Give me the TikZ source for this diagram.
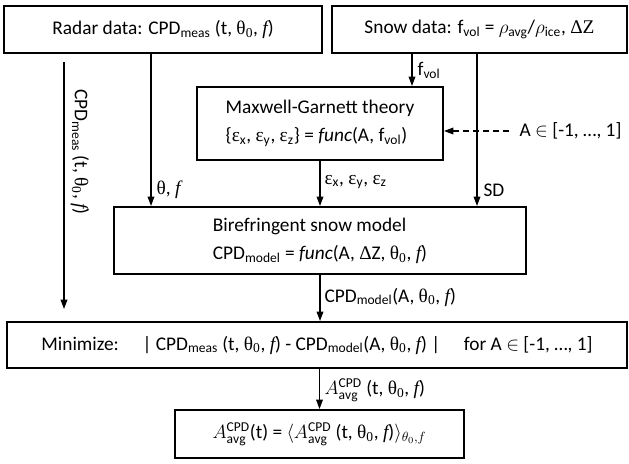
\documentclass[tikz,border=0pt]{standalone}
\usepackage{fontspec}
\setmainfont{Carlito}
\newfontfamily\symf{Liberation Serif}
\usetikzlibrary{arrows.meta, positioning}

\newcommand{\thz}{{\symf θ}\textsubscript{\symf 0}}
\newcommand{\ff}{{\symf\itshape f}}
\newcommand{\eps}[1]{{\symf ε}\textsubscript{#1}}
\newcommand{\Aavg}{$A^{\mathrm{CPD}}_{\mathrm{avg}}$}

\begin{document}
\begin{tikzpicture}[x=0.75pt, y=-0.75pt,
    box/.style={draw, line width=1.5pt, inner sep=0pt, align=left},
    arr/.style={-{Triangle[length=7pt,width=5pt]}, line width=0.9pt},
    lbl/.style={inner sep=1pt, anchor=west},
    font=\fontsize{14.5}{21}\selectfont]
    \useasboundingbox (0,0) rectangle (629,464);

    % Define the boxes
    \node[box, minimum width=238.5pt, minimum height=35.25pt] (radar) at (163,29.5)
        {Radar data: CPD\textsubscript{meas} (t, \thz, \ff)};
    \node[box, minimum width=221.25pt, minimum height=35.25pt] (snow) at (479.5,29.5)
        {Snow data: f\textsubscript{vol} = $\rho$\textsubscript{avg}/$\rho$\textsubscript{ice}, {\symf ΔZ}};
    \node[box, minimum width=184.5pt, minimum height=54.75pt] (mg) at (320,123.5)
        {Maxwell-Garnett theory\\\{\eps{x}, \eps{y}, \eps{z}\} = \textit{func}(A, f\textsubscript{vol})};
    \node[box, minimum width=309pt, minimum height=50.25pt] (bire) at (320,240.5)
        {Birefringent snow model\\CPD\textsubscript{model} = \textit{func}(A, {\symf Δ}Z, \thz, \ff)};
    \node[box, minimum width=465pt, minimum height=34.5pt] (mini) at (317,345)
        {Minimize:\quad\ | CPD\textsubscript{meas} (t, \thz, \ff) - CPD\textsubscript{model}(A, \thz, \ff) |\quad\ for A $\in$ [-1, …, 1]};
    \node[box, minimum width=216.75pt, minimum height=36pt] (res) at (319.5,434)
        {\Aavg(t) = $\langle$\Aavg\ (t, \thz, \ff)$\rangle_{\theta_0,f}$};

    % Free ends and columns
    \coordinate (thx) at (151,0);
    \coordinate (fvx) at (412,0);
    \coordinate (sdx) at (477,0);
    \coordinate (measA) at (64,62);
    \coordinate (measB) at (64,309);

    % Draw the connectors
    \draw[arr] (measA) -- (measB);
    \draw[arr] (radar.south -| thx) -- (bire.north -| thx);
    \draw[arr] (snow.south -| fvx) -- (mg.north -| fvx);
    \draw[arr] (snow.south -| sdx) -- (bire.north -| sdx);
    \draw[arr] (mg.south) -- (bire.north);
    \draw[arr] (bire.south) -- (mini.north -| bire.south);
    \draw[arr] (mini.south -| res.north) -- (res.north);

    % Dashed input
    \node[lbl] (aset) at (518,131) {A $\in$ [-1, …, 1]};
    \draw[arr, dash pattern=on 4.5pt off 3pt, shorten <=7pt] (aset.west) -- (mg.east |- aset.west);

    % Label the connectors
    \node[rotate=-90] (measlbl) at (80,152) {CPD\textsubscript{meas} (t, \thz, \ff)};
    \node[lbl] (fvlbl) at (416,70) {f\textsubscript{vol}};
    \node[lbl] (thlbl) at (155,190) {{\symf θ}, \ff};
    \node[lbl] (eplbl) at (323,182) {\eps{x}, \eps{y}, \eps{z}};
    \node[lbl] (sdlbl) at (482,190) {SD};
    \node[lbl] (cmlbl) at (323,297) {CPD\textsubscript{model}(A, \thz, \ff)};
    \node[lbl] (aalbl) at (323,390) {\Aavg\ (t, \thz, \ff)};
\end{tikzpicture}
\end{document}
